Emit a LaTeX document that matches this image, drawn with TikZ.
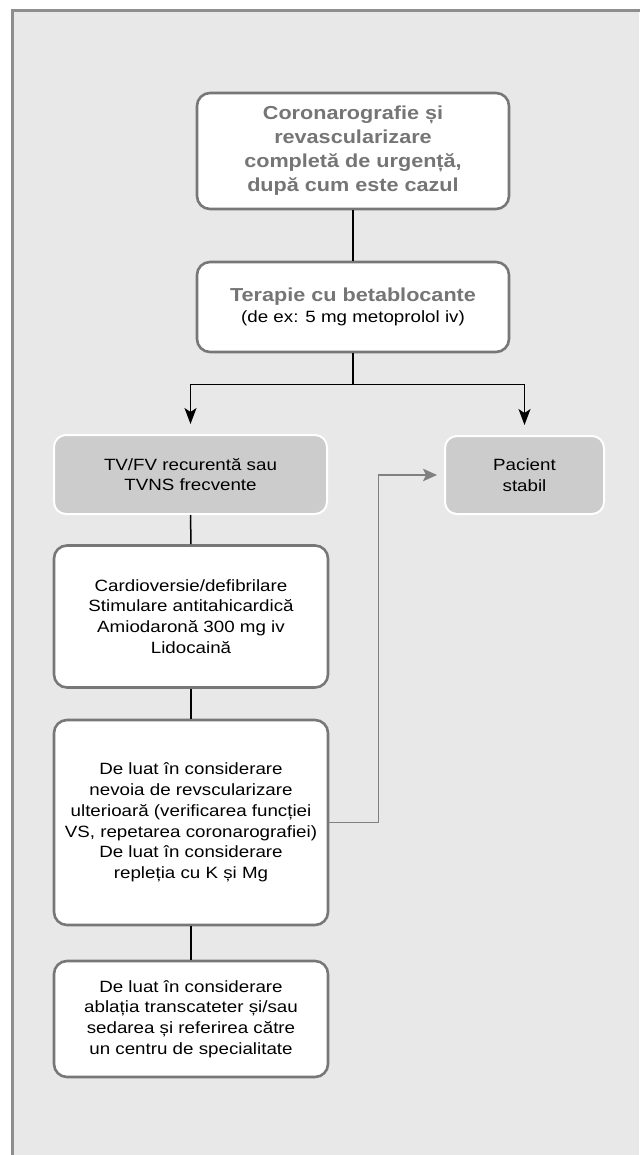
\documentclass[tikz,border=0pt]{standalone}
\usepackage{fontspec}
\setmainfont{Liberation Sans}[FakeStretch=1.15]
\usetikzlibrary{arrows.meta}
\definecolor{bgc}{HTML}{E8E8E8}
\definecolor{framec}{HTML}{8E8E8E}
\definecolor{boxborder}{HTML}{777777}
\definecolor{txtgray}{HTML}{757575}
\definecolor{grayfill}{HTML}{CCCCCC}
\definecolor{grayarrow}{HTML}{808080}
\tikzset{
  x=1pt,y=-1pt,
  whitebox/.style={draw=boxborder, line width=2.6pt, fill=white, rounded corners=13pt,
    align=center, inner sep=0pt, text=black,
    font=\fontsize{16.3}{20.7}\selectfont},
  graybox/.style={draw=white, line width=2pt, fill=grayfill, rounded corners=12pt,
    align=center, inner sep=0pt, text=black,
    font=\fontsize{16.3}{20.7}\selectfont},
  conn/.style={draw=black, line width=1.5pt},
  arr/.style={draw=black, line width=1.5pt, -{Stealth[length=16pt,width=12pt,inset=4pt]}},
  grayarr/.style={draw=grayarrow, line width=1.4pt, -{Stealth[length=14pt,width=12.5pt,inset=3pt]}},
  boldtitle/.style={font=\fontsize{18.8}{24}\selectfont\bfseries, text=txtgray}
}
\begin{document}
\begin{tikzpicture}
\useasboundingbox (0,0) rectangle (639,1155);
\fill[white] (0,0) rectangle (639,1155);
\fill[bgc] (12,12) rectangle (639,1155);
\draw[framec, line width=3pt] (12.5,1156) -- (12.5,11) -- (640,11);

\node[whitebox, boldtitle, minimum width=312pt, minimum height=116pt] (b1) at (353,151)
  {Coronarografie și\\revascularizare\\completă de urgență,\\după cum este cazul};
\node[whitebox, minimum width=312pt, minimum height=90pt] (b2) at (353,307)
  {{\fontsize{18.8}{23}\selectfont\bfseries\color{txtgray}Terapie cu betablocante}\\[1pt](de ex: 5 mg metoprolol iv)};

\node[graybox, minimum width=273pt, minimum height=79pt] (L) at (190.5,474.5)
  {TV/FV recurentă sau\\TVNS frecvente};
\node[graybox, minimum width=159pt, minimum height=78pt] (R) at (524.5,475)
  {Pacient\\stabil};

\node[whitebox, minimum width=274pt, minimum height=142pt] (b3) at (191,616.5)
  {Cardioversie/defibrilare\\Stimulare antitahicardică\\Amiodaronă 300 mg iv\\Lidocaină};
\node[whitebox, minimum width=274pt, minimum height=205pt] (b4) at (191,822.5)
  {De luat în considerare\\nevoia de revscularizare\\ulterioară (verificarea funcției\\VS, repetarea coronarografiei)\\De luat în considerare\\repleția cu K și Mg};
\node[whitebox, minimum width=274pt, minimum height=116pt] (b5) at (191,1019)
  {De luat în considerare\\ablația transcateter și/sau\\sedarea și referirea către\\un centru de specialitate};

\coordinate (br) at (353,384.5);
\draw[conn] (b1.south) -- (b2.north);
\draw[conn] (b2.south) -- (br);
\draw[arr, shorten >=10pt] (br) -| (L.north);
\draw[arr, shorten >=10pt] (br) -| (R.north);
\draw[conn] (L.south) -- (b3.north);
\draw[conn] (b3.south) -- (b4.north);
\draw[conn] (b4.south) -- (b5.north);
\coordinate (gc) at (378.5,822.5);
\draw[grayarr, shorten >=7pt] (b4.east) -- (gc) |- (R.west);
\end{tikzpicture}
\end{document}
